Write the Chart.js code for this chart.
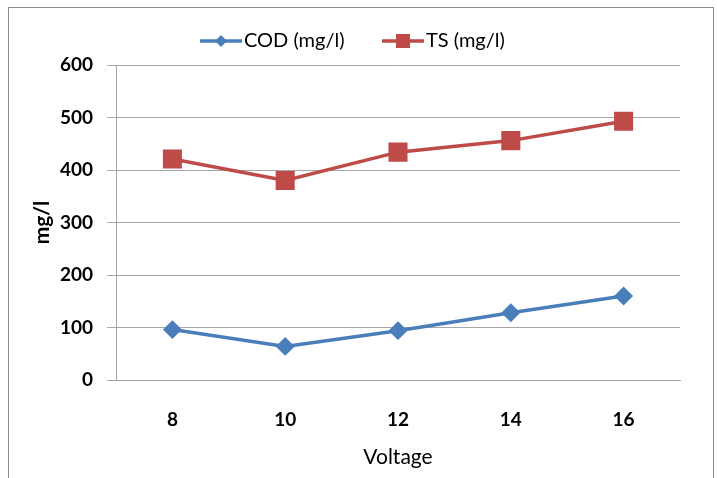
<!DOCTYPE html>
<html>

<head>
    <script src="https://cdn.jsdelivr.net/npm/chart.js@4.3.0/dist/chart.umd.min.js"></script>
    <style>
        body { margin: 0; background: #fff; }
        #wrap { position: relative; width: 717px; height: 478px; }
    </style>
</head>

<body>
    <div id="wrap">
        <canvas id="myChart" width="717" height="478"></canvas>
    </div>
    <script>
        // data
        const voltage = ["8", "10", "12", "14", "16"];
        const codValues = [96, 64, 94, 128, 160];
        const tsValues = [421, 380, 434, 456, 493];
        const yTicks = [0, 100, 200, 300, 400, 500, 600];

        const blue = "#4a7ebb";
        const red = "#be4b48";
        const fontName = "Lato, 'Open Sans', sans-serif";

        // outer frame + hand drawn legend (line with marker)
        const framePlugin = {
            id: "frame",
            beforeDraw(chart) {
                const ctx = chart.ctx;
                ctx.save();
                ctx.fillStyle = "#fff";
                ctx.fillRect(0, 0, chart.width, chart.height);
                ctx.strokeStyle = "#8c8c8c";
                ctx.lineWidth = 1;
                ctx.strokeRect(8.5, 7.5, 705, 500);
                ctx.restore();
            },
            afterDraw(chart) {
                const ctx = chart.ctx;
                const items = [
                    { text: "COD (mg/l)", color: blue, shape: "diamond", x: 200 },
                    { text: "TS (mg/l)", color: red, shape: "square", x: 382 }
                ];
                const y = 41;
                ctx.save();
                ctx.font = "20px " + fontName;
                ctx.textBaseline = "middle";
                items.forEach(it => {
                    ctx.strokeStyle = it.color;
                    ctx.fillStyle = it.color;
                    ctx.lineWidth = 3.5;
                    ctx.beginPath();
                    ctx.moveTo(it.x, y);
                    ctx.lineTo(it.x + 42, y);
                    ctx.stroke();
                    const cx = it.x + 21;
                    ctx.beginPath();
                    if (it.shape === "diamond") {
                        ctx.moveTo(cx - 6, y);
                        ctx.lineTo(cx, y - 6);
                        ctx.lineTo(cx + 6, y);
                        ctx.lineTo(cx, y + 6);
                    } else {
                        ctx.rect(cx - 7, y - 7, 14, 14);
                    }
                    ctx.closePath();
                    ctx.fill();
                    ctx.fillStyle = "#000";
                    ctx.fillText(it.text, it.x + 44, y);
                });
                ctx.restore();
            }
        };

        new Chart(document.getElementById("myChart"), {
            type: "line",
            data: {
                labels: voltage,
                datasets: [{
                    label: "COD (mg/l)",
                    data: codValues,
                    borderColor: blue,
                    backgroundColor: blue,
                    borderWidth: 3.5,
                    pointStyle: "rectRot",
                    pointRadius: 7,
                    pointHoverRadius: 7,
                    tension: 0
                }, {
                    label: "TS (mg/l)",
                    data: tsValues,
                    borderColor: red,
                    backgroundColor: red,
                    borderWidth: 3.5,
                    pointStyle: "rect",
                    pointRadius: 11,
                    pointHoverRadius: 11,
                    tension: 0
                }]
            },
            options: {
                responsive: false,
                animation: false,
                layout: { padding: { top: 65, right: 37, left: 0, bottom: 0 } },
                plugins: {
                    legend: { display: false },
                    tooltip: { enabled: false }
                },
                scales: {
                    x: {
                        offset: true,
                        grid: { display: false, drawTicks: false },
                        border: { color: "#a6a6a6", width: 1 },
                        ticks: {
                            color: "#000",
                            padding: 28,
                            font: { family: fontName, size: 19, weight: "bold" }
                        },
                        title: {
                            display: true,
                            text: "Voltage",
                            color: "#000",
                            padding: { top: 8, bottom: 8 },
                            font: { family: fontName, size: 21 }
                        },
                        afterFit(scale) { scale.height = 98; }
                    },
                    y: {
                        min: 0,
                        max: 600,
                        afterBuildTicks(scale) {
                            scale.ticks = yTicks.map(v => ({ value: v }));
                        },
                        grid: { color: "#a6a6a6", tickLength: 9, lineWidth: 1 },
                        border: { color: "#a6a6a6", width: 1 },
                        ticks: {
                            color: "#000",
                            padding: 14,
                            font: { family: fontName, size: 19, weight: "bold" }
                        },
                        title: {
                            display: true,
                            text: "mg/l",
                            color: "#000",
                            padding: { top: 30, bottom: 0 },
                            font: { family: fontName, size: 21, weight: "bold" }
                        },
                        afterFit(scale) { scale.width = 116; }
                    }
                }
            },
            plugins: [framePlugin]
        });
    </script>
</body>

</html>
